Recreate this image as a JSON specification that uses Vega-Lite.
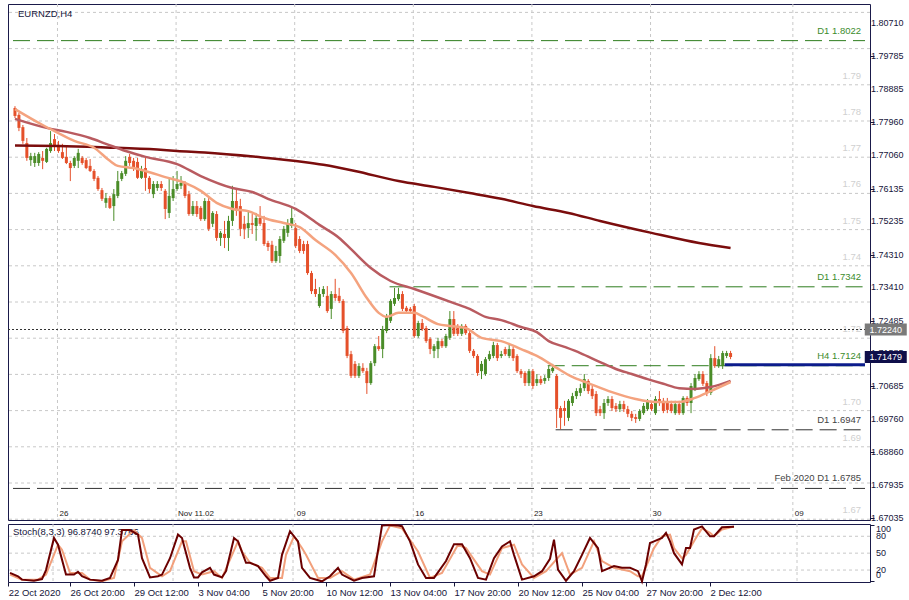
{
"$schema": "https://vega.github.io/schema/vega-lite/v6.json",
"background": "white",
"padding": {"left": 5, "top": 3, "right": 0, "bottom": 0},
"bounds": "flush",
"spacing": 4,
"config": {
  "view": {"stroke": "#1a1a4a", "strokeWidth": 1},
  "font": "Liberation Sans",
  "axis": {"labelFont": "Liberation Sans", "labelColor": "#15153a", "tickColor": "#15153a", "domain": false, "grid": false, "title": null, "labelOverlap": false, "labelBound": false}
},
"datasets": {
  "candles": [
{"i":0,"o":1.7836,"h":1.7841,"l":1.7808,"c":1.7814},
{"i":1,"o":1.7817,"h":1.7822,"l":1.7772,"c":1.7781},
{"i":2,"o":1.7783,"h":1.7789,"l":1.7737,"c":1.7745},
{"i":3,"o":1.7739,"h":1.7753,"l":1.7690,"c":1.7698},
{"i":4,"o":1.7692,"h":1.7712,"l":1.7676,"c":1.7703},
{"i":5,"o":1.7684,"h":1.7712,"l":1.7673,"c":1.7703},
{"i":6,"o":1.7684,"h":1.7714,"l":1.7676,"c":1.7709},
{"i":7,"o":1.7698,"h":1.7717,"l":1.7667,"c":1.7690},
{"i":8,"o":1.7687,"h":1.7726,"l":1.7684,"c":1.7723},
{"i":9,"o":1.7717,"h":1.7772,"l":1.7712,"c":1.7739},
{"i":10,"o":1.7750,"h":1.7764,"l":1.7717,"c":1.7731},
{"i":11,"o":1.7734,"h":1.7745,"l":1.7712,"c":1.7717},
{"i":12,"o":1.7714,"h":1.7737,"l":1.7695,"c":1.7698},
{"i":13,"o":1.7701,"h":1.7731,"l":1.7681,"c":1.7684},
{"i":14,"o":1.7684,"h":1.7690,"l":1.7634,"c":1.7670},
{"i":15,"o":1.7676,"h":1.7703,"l":1.7670,"c":1.7698},
{"i":16,"o":1.7690,"h":1.7723,"l":1.7670,"c":1.7712},
{"i":17,"o":1.7698,"h":1.7703,"l":1.7679,"c":1.7684},
{"i":18,"o":1.7692,"h":1.7698,"l":1.7667,"c":1.7670},
{"i":19,"o":1.7676,"h":1.7695,"l":1.7659,"c":1.7662},
{"i":20,"o":1.7662,"h":1.7667,"l":1.7634,"c":1.7640},
{"i":21,"o":1.7643,"h":1.7648,"l":1.7607,"c":1.7612},
{"i":22,"o":1.7609,"h":1.7615,"l":1.7579,"c":1.7585},
{"i":23,"o":1.7574,"h":1.7601,"l":1.7560,"c":1.7587},
{"i":24,"o":1.7587,"h":1.7593,"l":1.7557,"c":1.7560},
{"i":25,"o":1.7565,"h":1.7612,"l":1.7524,"c":1.7598},
{"i":26,"o":1.7593,"h":1.7662,"l":1.7587,"c":1.7634},
{"i":27,"o":1.7640,"h":1.7662,"l":1.7634,"c":1.7656},
{"i":28,"o":1.7654,"h":1.7703,"l":1.7648,"c":1.7690},
{"i":29,"o":1.7701,"h":1.7709,"l":1.7676,"c":1.7684},
{"i":30,"o":1.7690,"h":1.7698,"l":1.7662,"c":1.7670},
{"i":31,"o":1.7687,"h":1.7698,"l":1.7640,"c":1.7643},
{"i":32,"o":1.7643,"h":1.7676,"l":1.7640,"c":1.7667},
{"i":33,"o":1.7670,"h":1.7698,"l":1.7607,"c":1.7643},
{"i":34,"o":1.7643,"h":1.7648,"l":1.7601,"c":1.7612},
{"i":35,"o":1.7598,"h":1.7634,"l":1.7587,"c":1.7626},
{"i":36,"o":1.7615,"h":1.7634,"l":1.7607,"c":1.7626},
{"i":37,"o":1.7626,"h":1.7634,"l":1.7607,"c":1.7615},
{"i":38,"o":1.7607,"h":1.7612,"l":1.7529,"c":1.7557},
{"i":39,"o":1.7546,"h":1.7643,"l":1.7532,"c":1.7593},
{"i":40,"o":1.7587,"h":1.7648,"l":1.7579,"c":1.7612},
{"i":41,"o":1.7612,"h":1.7662,"l":1.7607,"c":1.7626},
{"i":42,"o":1.7621,"h":1.7648,"l":1.7612,"c":1.7629},
{"i":43,"o":1.7629,"h":1.7634,"l":1.7587,"c":1.7593},
{"i":44,"o":1.7598,"h":1.7607,"l":1.7538,"c":1.7543},
{"i":45,"o":1.7543,"h":1.7579,"l":1.7538,"c":1.7565},
{"i":46,"o":1.7565,"h":1.7579,"l":1.7535,"c":1.7543},
{"i":47,"o":1.7560,"h":1.7565,"l":1.7524,"c":1.7529},
{"i":48,"o":1.7529,"h":1.7587,"l":1.7524,"c":1.7579},
{"i":49,"o":1.7579,"h":1.7587,"l":1.7496,"c":1.7502},
{"i":50,"o":1.7516,"h":1.7551,"l":1.7507,"c":1.7546},
{"i":51,"o":1.7543,"h":1.7551,"l":1.7469,"c":1.7477},
{"i":52,"o":1.7477,"h":1.7496,"l":1.7455,"c":1.7491},
{"i":53,"o":1.7488,"h":1.7524,"l":1.7449,"c":1.7477},
{"i":54,"o":1.7477,"h":1.7538,"l":1.7441,"c":1.7524},
{"i":55,"o":1.7524,"h":1.7621,"l":1.7510,"c":1.7579},
{"i":56,"o":1.7579,"h":1.7615,"l":1.7538,"c":1.7557},
{"i":57,"o":1.7565,"h":1.7585,"l":1.7482,"c":1.7502},
{"i":58,"o":1.7516,"h":1.7538,"l":1.7474,"c":1.7502},
{"i":59,"o":1.7504,"h":1.7551,"l":1.7477,"c":1.7518},
{"i":60,"o":1.7518,"h":1.7543,"l":1.7488,"c":1.7513},
{"i":61,"o":1.7510,"h":1.7546,"l":1.7469,"c":1.7532},
{"i":62,"o":1.7532,"h":1.7565,"l":1.7510,"c":1.7516},
{"i":63,"o":1.7518,"h":1.7538,"l":1.7455,"c":1.7460},
{"i":64,"o":1.7463,"h":1.7469,"l":1.7441,"c":1.7452},
{"i":65,"o":1.7458,"h":1.7469,"l":1.7408,"c":1.7413},
{"i":66,"o":1.7413,"h":1.7455,"l":1.7408,"c":1.7441},
{"i":67,"o":1.7427,"h":1.7482,"l":1.7408,"c":1.7474},
{"i":68,"o":1.7469,"h":1.7510,"l":1.7463,"c":1.7502},
{"i":69,"o":1.7491,"h":1.7529,"l":1.7480,"c":1.7516},
{"i":70,"o":1.7510,"h":1.7560,"l":1.7504,"c":1.7532},
{"i":71,"o":1.7504,"h":1.7518,"l":1.7449,"c":1.7455},
{"i":72,"o":1.7474,"h":1.7482,"l":1.7435,"c":1.7441},
{"i":73,"o":1.7460,"h":1.7469,"l":1.7433,"c":1.7441},
{"i":74,"o":1.7460,"h":1.7469,"l":1.7375,"c":1.7380},
{"i":75,"o":1.7380,"h":1.7386,"l":1.7322,"c":1.7330},
{"i":76,"o":1.7336,"h":1.7364,"l":1.7314,"c":1.7322},
{"i":77,"o":1.7289,"h":1.7341,"l":1.7284,"c":1.7322},
{"i":78,"o":1.7322,"h":1.7344,"l":1.7314,"c":1.7336},
{"i":79,"o":1.7317,"h":1.7344,"l":1.7270,"c":1.7275},
{"i":80,"o":1.7281,"h":1.7330,"l":1.7253,"c":1.7322},
{"i":81,"o":1.7322,"h":1.7364,"l":1.7303,"c":1.7311},
{"i":82,"o":1.7317,"h":1.7339,"l":1.7297,"c":1.7303},
{"i":83,"o":1.7303,"h":1.7308,"l":1.7214,"c":1.7220},
{"i":84,"o":1.7228,"h":1.7234,"l":1.7145,"c":1.7151},
{"i":85,"o":1.7156,"h":1.7165,"l":1.7090,"c":1.7096},
{"i":86,"o":1.7129,"h":1.7137,"l":1.7090,"c":1.7096},
{"i":87,"o":1.7096,"h":1.7131,"l":1.7090,"c":1.7123},
{"i":88,"o":1.7118,"h":1.7131,"l":1.7104,"c":1.7109},
{"i":89,"o":1.7109,"h":1.7118,"l":1.7046,"c":1.7076},
{"i":90,"o":1.7076,"h":1.7137,"l":1.7071,"c":1.7131},
{"i":91,"o":1.7131,"h":1.7184,"l":1.7123,"c":1.7178},
{"i":92,"o":1.7178,"h":1.7206,"l":1.7165,"c":1.7170},
{"i":93,"o":1.7170,"h":1.7234,"l":1.7145,"c":1.7225},
{"i":94,"o":1.7220,"h":1.7267,"l":1.7214,"c":1.7261},
{"i":95,"o":1.7248,"h":1.7308,"l":1.7242,"c":1.7303},
{"i":96,"o":1.7295,"h":1.7339,"l":1.7289,"c":1.7311},
{"i":97,"o":1.7308,"h":1.7339,"l":1.7303,"c":1.7322},
{"i":98,"o":1.7322,"h":1.7330,"l":1.7275,"c":1.7281},
{"i":99,"o":1.7284,"h":1.7289,"l":1.7270,"c":1.7275},
{"i":100,"o":1.7281,"h":1.7286,"l":1.7270,"c":1.7275},
{"i":101,"o":1.7289,"h":1.7295,"l":1.7201,"c":1.7206},
{"i":102,"o":1.7206,"h":1.7248,"l":1.7201,"c":1.7242},
{"i":103,"o":1.7242,"h":1.7253,"l":1.7220,"c":1.7225},
{"i":104,"o":1.7228,"h":1.7234,"l":1.7187,"c":1.7192},
{"i":105,"o":1.7198,"h":1.7203,"l":1.7156,"c":1.7170},
{"i":106,"o":1.7165,"h":1.7184,"l":1.7145,"c":1.7178},
{"i":107,"o":1.7170,"h":1.7201,"l":1.7145,"c":1.7192},
{"i":108,"o":1.7192,"h":1.7198,"l":1.7173,"c":1.7178},
{"i":109,"o":1.7178,"h":1.7212,"l":1.7173,"c":1.7206},
{"i":110,"o":1.7201,"h":1.7275,"l":1.7195,"c":1.7253},
{"i":111,"o":1.7253,"h":1.7275,"l":1.7206,"c":1.7212},
{"i":112,"o":1.7234,"h":1.7239,"l":1.7206,"c":1.7212},
{"i":113,"o":1.7212,"h":1.7239,"l":1.7206,"c":1.7234},
{"i":114,"o":1.7234,"h":1.7239,"l":1.7209,"c":1.7214},
{"i":115,"o":1.7214,"h":1.7220,"l":1.7159,"c":1.7165},
{"i":116,"o":1.7165,"h":1.7170,"l":1.7145,"c":1.7151},
{"i":117,"o":1.7151,"h":1.7156,"l":1.7096,"c":1.7104},
{"i":118,"o":1.7109,"h":1.7137,"l":1.7087,"c":1.7129},
{"i":119,"o":1.7101,"h":1.7148,"l":1.7096,"c":1.7142},
{"i":120,"o":1.7142,"h":1.7165,"l":1.7137,"c":1.7156},
{"i":121,"o":1.7151,"h":1.7190,"l":1.7145,"c":1.7181},
{"i":122,"o":1.7181,"h":1.7187,"l":1.7137,"c":1.7145},
{"i":123,"o":1.7151,"h":1.7165,"l":1.7145,"c":1.7156},
{"i":124,"o":1.7170,"h":1.7176,"l":1.7151,"c":1.7156},
{"i":125,"o":1.7151,"h":1.7187,"l":1.7145,"c":1.7170},
{"i":126,"o":1.7170,"h":1.7176,"l":1.7137,"c":1.7145},
{"i":127,"o":1.7151,"h":1.7156,"l":1.7104,"c":1.7109},
{"i":128,"o":1.7109,"h":1.7115,"l":1.7090,"c":1.7101},
{"i":129,"o":1.7104,"h":1.7109,"l":1.7068,"c":1.7076},
{"i":130,"o":1.7076,"h":1.7115,"l":1.7068,"c":1.7109},
{"i":131,"o":1.7109,"h":1.7115,"l":1.7060,"c":1.7068},
{"i":132,"o":1.7076,"h":1.7101,"l":1.7068,"c":1.7087},
{"i":133,"o":1.7087,"h":1.7096,"l":1.7071,"c":1.7076},
{"i":134,"o":1.7082,"h":1.7098,"l":1.7074,"c":1.7090},
{"i":135,"o":1.7090,"h":1.7123,"l":1.7082,"c":1.7115},
{"i":136,"o":1.7109,"h":1.7129,"l":1.7104,"c":1.7118},
{"i":137,"o":1.7096,"h":1.7101,"l":1.6952,"c":1.7004},
{"i":138,"o":1.7007,"h":1.7013,"l":1.6949,"c":1.6980},
{"i":139,"o":1.7007,"h":1.7027,"l":1.6958,"c":1.6999},
{"i":140,"o":1.6980,"h":1.7032,"l":1.6971,"c":1.7027},
{"i":141,"o":1.7021,"h":1.7049,"l":1.7013,"c":1.7040},
{"i":142,"o":1.7040,"h":1.7062,"l":1.7032,"c":1.7054},
{"i":143,"o":1.7049,"h":1.7074,"l":1.7040,"c":1.7062},
{"i":144,"o":1.7062,"h":1.7101,"l":1.7054,"c":1.7087},
{"i":145,"o":1.7082,"h":1.7087,"l":1.7046,"c":1.7054},
{"i":146,"o":1.7060,"h":1.7068,"l":1.7032,"c":1.7040},
{"i":147,"o":1.7046,"h":1.7054,"l":1.6985,"c":1.6993},
{"i":148,"o":1.7004,"h":1.7013,"l":1.6985,"c":1.6993},
{"i":149,"o":1.6993,"h":1.7032,"l":1.6977,"c":1.7021},
{"i":150,"o":1.7021,"h":1.7040,"l":1.7013,"c":1.7032},
{"i":151,"o":1.7032,"h":1.7040,"l":1.6999,"c":1.7007},
{"i":152,"o":1.7013,"h":1.7021,"l":1.6996,"c":1.7004},
{"i":153,"o":1.7004,"h":1.7027,"l":1.6996,"c":1.7018},
{"i":154,"o":1.7018,"h":1.7027,"l":1.6996,"c":1.7004},
{"i":155,"o":1.7004,"h":1.7013,"l":1.6982,"c":1.6991},
{"i":156,"o":1.6991,"h":1.6999,"l":1.6971,"c":1.6980},
{"i":157,"o":1.6982,"h":1.6991,"l":1.6966,"c":1.6977},
{"i":158,"o":1.6977,"h":1.7004,"l":1.6971,"c":1.6999},
{"i":159,"o":1.6993,"h":1.7021,"l":1.6988,"c":1.7013},
{"i":160,"o":1.7004,"h":1.7032,"l":1.6999,"c":1.7027},
{"i":161,"o":1.7018,"h":1.7027,"l":1.6999,"c":1.7004},
{"i":162,"o":1.6993,"h":1.7040,"l":1.6988,"c":1.7032},
{"i":163,"o":1.7032,"h":1.7054,"l":1.7013,"c":1.7021},
{"i":164,"o":1.7027,"h":1.7035,"l":1.6993,"c":1.6999},
{"i":165,"o":1.7024,"h":1.7035,"l":1.6993,"c":1.7002},
{"i":166,"o":1.7018,"h":1.7027,"l":1.6993,"c":1.6999},
{"i":167,"o":1.6993,"h":1.7027,"l":1.6988,"c":1.7018},
{"i":168,"o":1.7018,"h":1.7027,"l":1.6988,"c":1.6993},
{"i":169,"o":1.6993,"h":1.7040,"l":1.6988,"c":1.7035},
{"i":170,"o":1.7035,"h":1.7040,"l":1.7013,"c":1.7021},
{"i":171,"o":1.7021,"h":1.7076,"l":1.6993,"c":1.7068},
{"i":172,"o":1.7062,"h":1.7101,"l":1.7054,"c":1.7090},
{"i":173,"o":1.7087,"h":1.7109,"l":1.7082,"c":1.7101},
{"i":174,"o":1.7101,"h":1.7109,"l":1.7068,"c":1.7074},
{"i":175,"o":1.7076,"h":1.7082,"l":1.7040,"c":1.7049},
{"i":176,"o":1.7049,"h":1.7156,"l":1.7043,"c":1.7145},
{"i":177,"o":1.7145,"h":1.7178,"l":1.7118,"c":1.7123},
{"i":178,"o":1.7123,"h":1.7151,"l":1.7118,"c":1.7142},
{"i":179,"o":1.7123,"h":1.7165,"l":1.7115,"c":1.7159},
{"i":180,"o":1.7151,"h":1.7165,"l":1.7145,"c":1.7159},
{"i":181,"o":1.7159,"h":1.7165,"l":1.7142,"c":1.7148}
  ],
  "ma": [
{"i":0,"v":1.7732,"s":"MA200"},{"i":11,"v":1.7731,"s":"MA200"},{"i":23,"v":1.7727,"s":"MA200"},{"i":36,"v":1.7721,"s":"MA200"},{"i":41,"v":1.7717,"s":"MA200"},{"i":48,"v":1.7713,"s":"MA200"},{"i":61,"v":1.7701,"s":"MA200"},{"i":73,"v":1.7687,"s":"MA200"},{"i":78,"v":1.7679,"s":"MA200"},{"i":86,"v":1.7662,"s":"MA200"},{"i":97,"v":1.7634,"s":"MA200"},{"i":106,"v":1.7618,"s":"MA200"},{"i":115,"v":1.7601,"s":"MA200"},{"i":123,"v":1.7585,"s":"MA200"},{"i":131,"v":1.7565,"s":"MA200"},{"i":140,"v":1.7546,"s":"MA200"},{"i":148,"v":1.7524,"s":"MA200"},{"i":161,"v":1.7491,"s":"MA200"},{"i":173,"v":1.7463,"s":"MA200"},{"i":181,"v":1.7449,"s":"MA200"},
{"i":0,"v":1.7806,"s":"MA50"},{"i":8,"v":1.7781,"s":"MA50"},{"i":13,"v":1.7770,"s":"MA50"},{"i":19,"v":1.7753,"s":"MA50"},{"i":23,"v":1.7737,"s":"MA50"},{"i":28,"v":1.7717,"s":"MA50"},{"i":33,"v":1.7701,"s":"MA50"},{"i":41,"v":1.7681,"s":"MA50"},{"i":47,"v":1.7648,"s":"MA50"},{"i":55,"v":1.7615,"s":"MA50"},{"i":60,"v":1.7604,"s":"MA50"},{"i":64,"v":1.7585,"s":"MA50"},{"i":71,"v":1.7557,"s":"MA50"},{"i":77,"v":1.7513,"s":"MA50"},{"i":82,"v":1.7477,"s":"MA50"},{"i":85,"v":1.7446,"s":"MA50"},{"i":90,"v":1.7394,"s":"MA50"},{"i":95,"v":1.7358,"s":"MA50"},{"i":101,"v":1.7336,"s":"MA50"},{"i":111,"v":1.7297,"s":"MA50"},{"i":115,"v":1.7281,"s":"MA50"},{"i":119,"v":1.7259,"s":"MA50"},{"i":123,"v":1.7250,"s":"MA50"},{"i":128,"v":1.7231,"s":"MA50"},{"i":132,"v":1.7217,"s":"MA50"},{"i":135,"v":1.7192,"s":"MA50"},{"i":139,"v":1.7176,"s":"MA50"},{"i":143,"v":1.7159,"s":"MA50"},{"i":148,"v":1.7134,"s":"MA50"},{"i":152,"v":1.7115,"s":"MA50"},{"i":156,"v":1.7101,"s":"MA50"},{"i":160,"v":1.7087,"s":"MA50"},{"i":164,"v":1.7074,"s":"MA50"},{"i":168,"v":1.7062,"s":"MA50"},{"i":172,"v":1.7060,"s":"MA50"},{"i":176,"v":1.7065,"s":"MA50"},{"i":181,"v":1.7082,"s":"MA50"},
{"i":0,"v":1.7833,"s":"MA20"},{"i":7,"v":1.7789,"s":"MA20"},{"i":10,"v":1.7772,"s":"MA20"},{"i":15,"v":1.7745,"s":"MA20"},{"i":20,"v":1.7726,"s":"MA20"},{"i":24,"v":1.7690,"s":"MA20"},{"i":26,"v":1.7676,"s":"MA20"},{"i":30,"v":1.7670,"s":"MA20"},{"i":33,"v":1.7662,"s":"MA20"},{"i":38,"v":1.7645,"s":"MA20"},{"i":43,"v":1.7629,"s":"MA20"},{"i":47,"v":1.7607,"s":"MA20"},{"i":51,"v":1.7574,"s":"MA20"},{"i":55,"v":1.7557,"s":"MA20"},{"i":59,"v":1.7551,"s":"MA20"},{"i":63,"v":1.7532,"s":"MA20"},{"i":68,"v":1.7518,"s":"MA20"},{"i":72,"v":1.7507,"s":"MA20"},{"i":76,"v":1.7471,"s":"MA20"},{"i":81,"v":1.7430,"s":"MA20"},{"i":85,"v":1.7380,"s":"MA20"},{"i":89,"v":1.7311,"s":"MA20"},{"i":92,"v":1.7270,"s":"MA20"},{"i":94,"v":1.7259,"s":"MA20"},{"i":97,"v":1.7270,"s":"MA20"},{"i":101,"v":1.7270,"s":"MA20"},{"i":103,"v":1.7261,"s":"MA20"},{"i":107,"v":1.7239,"s":"MA20"},{"i":110,"v":1.7234,"s":"MA20"},{"i":114,"v":1.7228,"s":"MA20"},{"i":118,"v":1.7201,"s":"MA20"},{"i":123,"v":1.7192,"s":"MA20"},{"i":128,"v":1.7170,"s":"MA20"},{"i":132,"v":1.7151,"s":"MA20"},{"i":137,"v":1.7118,"s":"MA20"},{"i":141,"v":1.7093,"s":"MA20"},{"i":145,"v":1.7076,"s":"MA20"},{"i":151,"v":1.7051,"s":"MA20"},{"i":157,"v":1.7032,"s":"MA20"},{"i":162,"v":1.7024,"s":"MA20"},{"i":168,"v":1.7024,"s":"MA20"},{"i":172,"v":1.7035,"s":"MA20"},{"i":176,"v":1.7054,"s":"MA20"},{"i":181,"v":1.7079,"s":"MA20"}
  ],
  "stochK": [
{"i":0,"v":15},{"i":2,"v":9},{"i":3,"v":3},{"i":6,"v":1},{"i":8,"v":4},{"i":9,"v":20},{"i":11,"v":77},{"i":12,"v":65},{"i":14,"v":12},{"i":16,"v":12},{"i":17,"v":17},{"i":18,"v":9},{"i":20,"v":3},{"i":23,"v":1},{"i":25,"v":6},{"i":27,"v":38},{"i":28,"v":91},{"i":30,"v":91},{"i":32,"v":83},{"i":33,"v":41},{"i":35,"v":7},{"i":37,"v":9},{"i":38,"v":12},{"i":40,"v":41},{"i":42,"v":83},{"i":43,"v":77},{"i":45,"v":24},{"i":46,"v":7},{"i":47,"v":7},{"i":48,"v":16},{"i":50,"v":24},{"i":51,"v":12},{"i":53,"v":7},{"i":54,"v":18},{"i":56,"v":77},{"i":57,"v":71},{"i":59,"v":33},{"i":60,"v":33},{"i":62,"v":27},{"i":64,"v":9},{"i":65,"v":1},{"i":67,"v":6},{"i":68,"v":47},{"i":70,"v":89},{"i":72,"v":71},{"i":73,"v":24},{"i":75,"v":6},{"i":78,"v":0},{"i":80,"v":9},{"i":82,"v":24},{"i":83,"v":12},{"i":86,"v":1},{"i":88,"v":6},{"i":91,"v":9},{"i":92,"v":55},{"i":93,"v":99},{"i":95,"v":100},{"i":97,"v":99},{"i":98,"v":98},{"i":100,"v":71},{"i":102,"v":30},{"i":104,"v":6},{"i":106,"v":6},{"i":109,"v":36},{"i":111,"v":66},{"i":113,"v":66},{"i":115,"v":41},{"i":117,"v":6},{"i":119,"v":3},{"i":121,"v":41},{"i":123,"v":62},{"i":125,"v":71},{"i":126,"v":47},{"i":128,"v":3},{"i":131,"v":9},{"i":133,"v":18},{"i":135,"v":40},{"i":136,"v":74},{"i":137,"v":21},{"i":139,"v":1},{"i":141,"v":18},{"i":143,"v":47},{"i":145,"v":77},{"i":147,"v":59},{"i":148,"v":18},{"i":151,"v":27},{"i":153,"v":24},{"i":155,"v":24},{"i":157,"v":18},{"i":158,"v":0},{"i":159,"v":30},{"i":160,"v":68},{"i":161,"v":71},{"i":163,"v":77},{"i":164,"v":86},{"i":165,"v":71},{"i":166,"v":50},{"i":168,"v":30},{"i":169,"v":59},{"i":170,"v":59},{"i":171,"v":92},{"i":173,"v":97.5},{"i":175,"v":80},{"i":176,"v":80},{"i":178,"v":96},{"i":181,"v":96.87}
  ],
  "stochD": [
{"i":0,"v":12},{"i":3,"v":3},{"i":7,"v":3},{"i":9,"v":12},{"i":12,"v":65},{"i":13,"v":56},{"i":15,"v":15},{"i":18,"v":15},{"i":20,"v":3},{"i":23,"v":0},{"i":26,"v":6},{"i":28,"v":71},{"i":31,"v":91},{"i":33,"v":77},{"i":35,"v":24},{"i":38,"v":9},{"i":40,"v":18},{"i":43,"v":71},{"i":44,"v":71},{"i":46,"v":18},{"i":48,"v":12},{"i":51,"v":18},{"i":53,"v":6},{"i":57,"v":71},{"i":58,"v":53},{"i":60,"v":33},{"i":63,"v":24},{"i":65,"v":6},{"i":68,"v":6},{"i":69,"v":47},{"i":71,"v":80},{"i":73,"v":59},{"i":74,"v":47},{"i":77,"v":6},{"i":80,"v":6},{"i":83,"v":18},{"i":86,"v":3},{"i":90,"v":12},{"i":93,"v":71},{"i":95,"v":99},{"i":98,"v":94},{"i":102,"v":53},{"i":105,"v":6},{"i":108,"v":15},{"i":112,"v":65},{"i":114,"v":59},{"i":118,"v":18},{"i":120,"v":12},{"i":123,"v":59},{"i":126,"v":65},{"i":128,"v":30},{"i":131,"v":6},{"i":134,"v":18},{"i":138,"v":50},{"i":140,"v":12},{"i":143,"v":24},{"i":146,"v":71},{"i":148,"v":36},{"i":151,"v":24},{"i":155,"v":18},{"i":157,"v":9},{"i":158,"v":9},{"i":161,"v":59},{"i":163,"v":80},{"i":165,"v":83},{"i":166,"v":59},{"i":168,"v":41},{"i":169,"v":47},{"i":172,"v":83},{"i":173,"v":94},{"i":175,"v":86},{"i":176,"v":80},{"i":178,"v":92},{"i":181,"v":97.38}
  ],
  "levels": [
{"label":"D1 1.8022","price":1.8022,"start":-0.5,"kind":"green"},
{"label":"D1 1.7342","price":1.7342,"start":94.75,"kind":"green"},
{"label":"H4 1.7124","price":1.7124,"start":134.75,"kind":"green"},
{"label":"D1 1.6947","price":1.6947,"start":136.75,"kind":"dark"},
{"label":"Feb 2020 D1 1.6785","price":1.6785,"start":-0.5,"kind":"dark"}
  ],
  "askline": [{"price":1.7224}],
  "hline": [{"price":1.7127,"start":179.5}],
  "pgrid": [{"p":1.67},{"p":1.68},{"p":1.69},{"p":1.70},{"p":1.71},{"p":1.72},{"p":1.73},{"p":1.74},{"p":1.75},{"p":1.76},{"p":1.77},{"p":1.78},{"p":1.79},{"p":1.80},{"p":1.81}],
  "pticks": [{"p":1.8071},{"p":1.79785},{"p":1.78885},{"p":1.7796},{"p":1.7706},{"p":1.76135},{"p":1.75235},{"p":1.7431},{"p":1.7341},{"p":1.72485},{"p":1.71585},{"p":1.70685},{"p":1.6976},{"p":1.6886},{"p":1.67935},{"p":1.67035}],
  "faint": [{"p":1.79,"t":"1.79"},{"p":1.78,"t":"1.78"},{"p":1.77,"t":"1.77"},{"p":1.76,"t":"1.76"},{"p":1.75,"t":"1.75"},{"p":1.74,"t":"1.74"},{"p":1.72,"t":"1.72"},{"p":1.70,"t":"1.70"},{"p":1.69,"t":"1.69"},{"p":1.67,"t":"1.67"}],
  "wk": [{"i":10.75,"t":"26"},{"i":40.75,"t":"Nov 11.02"},{"i":70.75,"t":"09"},{"i":100.75,"t":"16"},{"i":130.75,"t":"23"},{"i":160.75,"t":"30"},{"i":196.75,"t":"09"}],
  "boxes": [{"p":1.7224,"t":"1.72240","kind":"ask"},{"p":1.71479,"t":"1.71479","kind":"bid"}],
  "titles": [{"t":"EURNZD,H4","i":-0.5,"p":1.8095}],
  "stitles": [{"t":"Stoch(8,3,3) 96.8740 97.3766","i":-0.5,"v":87}],
  "sgrid": [{"v":20},{"v":50},{"v":80}],
  "sticks": [{"v":0,"pos":"bottom"},{"v":20,"pos":"middle"},{"v":50,"pos":"middle"},{"v":80,"pos":"middle"},{"v":100,"pos":"top"}]
},
"vconcat": [
{
  "width": 862, "height": 516,
  "layer": [
    {"data": {"name": "pgrid"}, "mark": {"type": "rule", "color": "#c8c8c8", "strokeDash": [3, 3], "strokeWidth": 1},
     "encoding": {"y": {"field": "p", "type": "quantitative", "scale": {"domain": [1.66978, 1.81232], "nice": false, "zero": false},
        "axis": {"orient": "right", "values": [1.8071,1.79785,1.78885,1.7796,1.7706,1.76135,1.75235,1.7431,1.7341,1.72485,1.71585,1.70685,1.6976,1.6886,1.67935,1.67035], "labels": false, "tickSize": 4}}}},
    {"data": {"name": "wk"}, "mark": {"type": "rule", "color": "#c8c8c8", "strokeDash": [3, 3], "strokeWidth": 1},
     "encoding": {"x": {"field": "i", "type": "quantitative", "scale": {"domain": [-0.5, 215], "nice": false, "zero": false}, "axis": null}}},
    {"data": {"name": "wk"}, "mark": {"type": "text", "align": "left", "baseline": "middle", "dx": 2, "fontSize": 8, "color": "#222222"},
     "encoding": {"x": {"field": "i", "type": "quantitative", "axis": null}, "y": {"datum": 1.6714}, "text": {"field": "t"}}},
    {"data": {"name": "titles"}, "mark": {"type": "text", "align": "left", "baseline": "middle", "dx": 5, "fontSize": 9.5, "color": "#15153a"},
     "encoding": {"x": {"field": "i", "type": "quantitative", "axis": null}, "y": {"field": "p", "type": "quantitative"}, "text": {"field": "t"}}},
    {"data": {"name": "faint"}, "mark": {"type": "text", "align": "right", "baseline": "middle", "dy": -9, "fontSize": 9.5, "color": "#d0d0d0"},
     "encoding": {"x": {"datum": 214, "axis": null}, "y": {"field": "p", "type": "quantitative"}, "text": {"field": "t"}}},
    {"data": {"name": "askline"}, "mark": {"type": "rule", "color": "#333333", "strokeDash": [2, 2], "strokeWidth": 1},
     "encoding": {"y": {"field": "price", "type": "quantitative"}}},
    {"data": {"name": "levels"}, "mark": {"type": "rule", "strokeDash": [17, 7], "strokeWidth": 1},
     "encoding": {"x": {"field": "start", "type": "quantitative", "axis": null}, "x2": {"datum": 215}, "y": {"field": "price", "type": "quantitative"},
        "color": {"condition": {"test": "datum.kind == 'green'", "value": "#2e7d1e"}, "value": "#333333"}}},
    {"data": {"name": "levels"}, "mark": {"type": "text", "align": "right", "baseline": "middle", "dy": -10, "fontSize": 9.5},
     "encoding": {"x": {"datum": 214, "axis": null}, "y": {"field": "price", "type": "quantitative"}, "text": {"field": "label"},
        "color": {"condition": {"test": "datum.kind == 'green'", "value": "#3c8c2c"}, "value": "#444444"}}},
    {"data": {"name": "hline"}, "mark": {"type": "rule", "color": "#0c1c8c", "strokeWidth": 3},
     "encoding": {"x": {"field": "start", "type": "quantitative", "axis": null}, "x2": {"datum": 215}, "y": {"field": "price", "type": "quantitative"}}},
    {"data": {"name": "candles"}, "mark": {"type": "rule", "strokeWidth": 1},
     "encoding": {"x": {"field": "i", "type": "quantitative", "axis": null}, "y": {"field": "l", "type": "quantitative"}, "y2": {"field": "h"},
        "color": {"condition": {"test": "datum.c >= datum.o", "value": "#4a8c28"}, "value": "#e5502a"}}},
    {"data": {"name": "candles"}, "mark": {"type": "bar", "size": 3},
     "encoding": {"x": {"field": "i", "type": "quantitative", "axis": null}, "y": {"field": "o", "type": "quantitative"}, "y2": {"field": "c"},
        "color": {"condition": {"test": "datum.c >= datum.o", "value": "#4a8c28"}, "value": "#e5502a"}}},
    {"data": {"name": "ma"}, "mark": {"type": "line", "strokeWidth": 2.5, "interpolate": "monotone"},
     "encoding": {"x": {"field": "i", "type": "quantitative", "axis": null}, "y": {"field": "v", "type": "quantitative"},
        "color": {"field": "s", "type": "nominal", "scale": {"domain": ["MA200", "MA50", "MA20"], "range": ["#7b0d0d", "#b95b60", "#f4a37f"]}, "legend": null}}},
    {"data": {"name": "pticks"}, "mark": {"type": "text", "align": "left", "baseline": "middle", "dx": 6, "fontSize": 9, "color": "#15153a"},
     "encoding": {"x": {"datum": 215, "axis": null}, "y": {"field": "p", "type": "quantitative"}, "text": {"field": "p", "type": "quantitative", "format": ".5f"}}},
    {"data": {"name": "boxes"}, "mark": {"type": "point", "filled": true, "opacity": 1, "size": 576, "shape": "M -1.75 -0.5 L 1.75 -0.5 L 1.75 0.5 L -1.75 0.5 Z"},
     "encoding": {"x": {"datum": 220.25, "axis": null}, "y": {"field": "p", "type": "quantitative"},
        "fill": {"condition": {"test": "datum.kind == 'ask'", "value": "#7a7a7a"}, "value": "#0f0f4a"}}},
    {"data": {"name": "boxes"}, "mark": {"type": "text", "align": "center", "baseline": "middle", "fontSize": 9, "color": "white"},
     "encoding": {"x": {"datum": 220.25, "axis": null}, "y": {"field": "p", "type": "quantitative"}, "text": {"field": "t"}}}
  ]
},
{
  "width": 862, "height": 58,
  "layer": [
    {"data": {"name": "wk"}, "mark": {"type": "rule", "color": "#c8c8c8", "strokeDash": [3, 3], "strokeWidth": 1},
     "encoding": {"x": {"field": "i", "type": "quantitative", "scale": {"domain": [-0.5, 215], "nice": false, "zero": false},
        "axis": {"orient": "bottom", "values": [-0.45,15,31,47,63,79,95,111,127,143,159,175],
          "labelExpr": "datum.value < 0 ? '22 Oct 2020' : ['26 Oct 20:00','29 Oct 12:00','3 Nov 04:00','5 Nov 20:00','10 Nov 12:00','13 Nov 04:00','17 Nov 20:00','20 Nov 12:00','25 Nov 04:00','27 Nov 20:00','2 Dec 12:00'][round((datum.value - 15) / 16)]",
          "labelAlign": "left", "labelFontSize": 9.5, "tickSize": 4, "labelPadding": 1, "labelFlush": false, "labelOverlap": false, "labelBound": false}}}},
    {"data": {"name": "sgrid"}, "mark": {"type": "rule", "color": "#c8c8c8", "strokeDash": [3, 3], "strokeWidth": 1},
     "encoding": {"y": {"field": "v", "type": "quantitative", "scale": {"domain": [-1.2, 101.8], "nice": false, "zero": false},
        "axis": {"orient": "right", "values": [0, 20, 50, 80, 100], "labels": false, "tickSize": 4}}}},
    {"data": {"name": "sticks"}, "transform": [{"filter": "datum.pos == 'middle'"}], "mark": {"type": "text", "align": "left", "baseline": "middle", "dx": 6, "fontSize": 9, "color": "#15153a"},
     "encoding": {"x": {"datum": 215}, "y": {"field": "v", "type": "quantitative"}, "text": {"field": "v", "type": "quantitative"}}},
    {"data": {"name": "sticks"}, "transform": [{"filter": "datum.pos == 'top'"}], "mark": {"type": "text", "align": "left", "baseline": "top", "dx": 6, "dy": 0, "fontSize": 9, "color": "#15153a"},
     "encoding": {"x": {"datum": 215}, "y": {"field": "v", "type": "quantitative"}, "text": {"field": "v", "type": "quantitative"}}},
    {"data": {"name": "sticks"}, "transform": [{"filter": "datum.pos == 'bottom'"}], "mark": {"type": "text", "align": "left", "baseline": "bottom", "dx": 6, "dy": -1, "fontSize": 9, "color": "#15153a"},
     "encoding": {"x": {"datum": 215}, "y": {"field": "v", "type": "quantitative"}, "text": {"field": "v", "type": "quantitative"}}},
    {"data": {"name": "stitles"}, "mark": {"type": "text", "align": "left", "baseline": "middle", "dx": 5, "fontSize": 9.5, "color": "#15153a"},
     "encoding": {"x": {"field": "i", "type": "quantitative"}, "y": {"field": "v", "type": "quantitative"}, "text": {"field": "t"}}},
    {"data": {"name": "stochD"}, "mark": {"type": "line", "strokeWidth": 2, "color": "#f2a07c"},
     "encoding": {"x": {"field": "i", "type": "quantitative"}, "y": {"field": "v", "type": "quantitative"}}},
    {"data": {"name": "stochK"}, "mark": {"type": "line", "strokeWidth": 2, "color": "#6b0000"},
     "encoding": {"x": {"field": "i", "type": "quantitative"}, "y": {"field": "v", "type": "quantitative"}}}
  ]
}
]
}
